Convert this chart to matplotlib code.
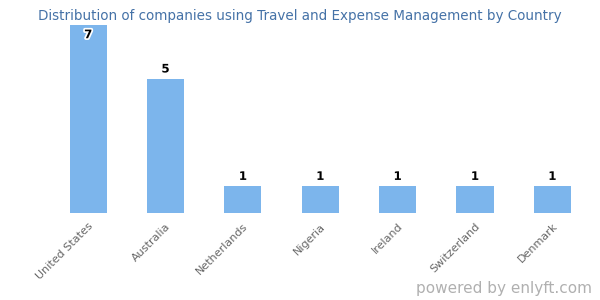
import matplotlib
matplotlib.use("Agg")
import matplotlib.pyplot as plt
import matplotlib.patheffects as pe

# datos
paises = ["United States", "Australia", "Netherlands", "Nigeria",
          "Ireland", "Switzerland", "Denmark"]
empresas = [7, 5, 1, 1, 1, 1, 1]

fig = plt.figure(figsize=(6, 3), dpi=100)
ax = fig.add_axes([0.0825, 0.29, 0.9025, 0.6267])

x = range(len(paises))
ax.bar(x, empresas, width=0.48, color="#7cb5ec")
ax.set_xlim(-0.5, len(paises) - 0.5)
ax.set_ylim(0, max(empresas))

borde = [pe.withStroke(linewidth=2.5, foreground="white")]
for i, v in zip(x, empresas):
    if v == max(empresas):
        ax.text(i, v - 0.12, str(v), ha="center", va="top", fontsize=8.5,
                fontweight="bold", color="black", path_effects=borde)
    else:
        ax.text(i, v + 0.12, str(v), ha="center", va="bottom", fontsize=8.5,
                fontweight="bold", color="black", path_effects=borde)

ax.set_xticks(list(x))
ax.set_xticklabels(paises, rotation=45, ha="right", rotation_mode="anchor",
                   fontsize=8, color="#666666")
ax.tick_params(axis="x", length=0, pad=6)
ax.set_yticks([])
for s in ax.spines.values():
    s.set_visible(False)

fig.text(0.5, 0.947, "Distribution of companies using Travel and Expense Management by Country",
         ha="center", va="center", fontsize=9.75, color="#4572a7")
fig.text(0.987, 0.04, "powered by enlyft.com", ha="right", va="center",
         fontsize=11, color="#b0b0b0")

fig.savefig("out.png", dpi=100)
